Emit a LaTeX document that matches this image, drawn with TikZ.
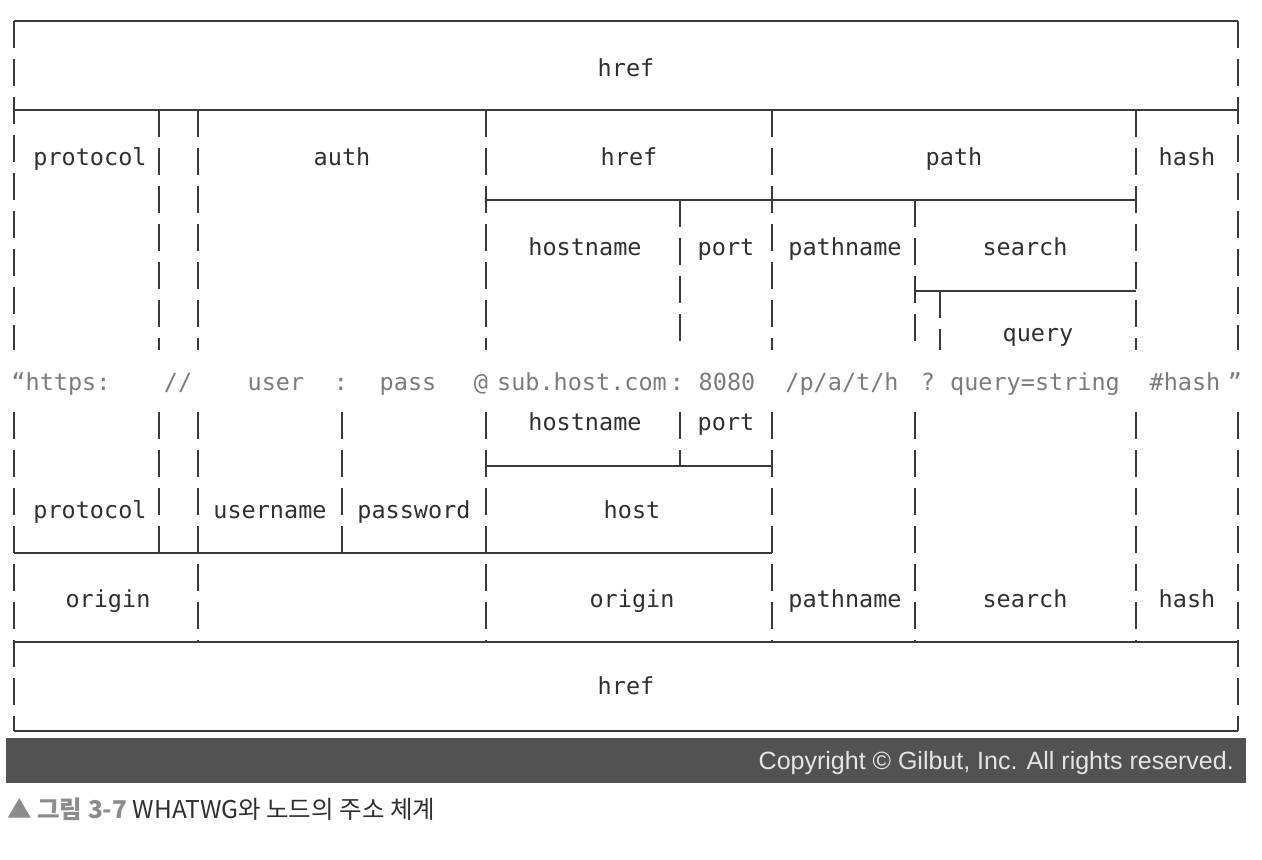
\documentclass[tikz,border=0pt]{standalone}
\usepackage{fontspec}
\setmonofont{DejaVu Sans Mono}
\newfontfamily\korfont{Noto Sans CJK KR}
\newfontfamily\notefont{Liberation Sans}
\definecolor{linegray}{HTML}{3A3A3A}
\definecolor{labelgray}{HTML}{303030}
\definecolor{urlgray}{HTML}{7C7C7C}
\definecolor{bargray}{HTML}{525252}
\definecolor{capgray}{HTML}{8C8C8C}
\tikzset{lbl/.style={font=\ttfamily\fontsize{23.5}{28}\selectfont, text=labelgray, anchor=base, inner sep=0pt}}
\tikzset{urlpart/.style={lbl, text=urlgray}}
\tikzset{rule/.style={draw=linegray, line width=2pt}}
\tikzset{sep/.style={draw=linegray, line width=2pt, dash pattern=on 27pt off 11pt}}

\begin{document}
\begin{tikzpicture}[x=1pt, y=-1pt]
\useasboundingbox (0,0) rectangle (1262,860);

% solid rules
\draw[rule] (14,21) -- (1238,21);
\draw[rule] (14,110) -- (1238,110);
\draw[rule] (486,200) -- (1136,200);
\draw[rule] (915,291) -- (1136,291);
\draw[rule] (486,466) -- (772,466);
\draw[rule] (14,553) -- (772,553);
\draw[rule] (14,642) -- (1238,642);
\draw[rule] (14,731) -- (1238,731);

% dashed separators, upper half
\draw[sep] (14,21) -- (14,350);
\draw[sep] (159,110) -- (159,350);
\draw[sep] (198,110) -- (198,350);
\draw[sep] (486,110) -- (486,350);
\draw[sep] (680,200) -- (680,350);
\draw[sep] (772,110) -- (772,350);
\draw[sep] (915,200) -- (915,350);
\draw[sep] (940,291) -- (940,350);
\draw[sep] (1136,110) -- (1136,350);
\draw[sep] (1238,21) -- (1238,350);

% dashed separators, lower half
\draw[sep] (14,412) -- (14,731);
\draw[sep] (159,412) -- (159,553);
\draw[sep] (198,412) -- (198,642);
\draw[sep] (342,412) -- (342,553);
\draw[sep] (486,412) -- (486,642);
\draw[sep] (680,412) -- (680,466);
\draw[sep] (772,412) -- (772,642);
\draw[sep] (915,412) -- (915,642);
\draw[sep] (1136,412) -- (1136,642);
\draw[sep] (1238,412) -- (1238,731);

% labels above the url
\node[lbl] (hrefTop) at (626,76) {href};
\node[lbl] (protoTop) at (90,165) {protocol};
\node[lbl] (auth) at (342,165) {auth};
\node[lbl] (hrefMid) at (629,165) {href};
\node[lbl] (path) at (954,165) {path};
\node[lbl] (hashTop) at (1187,165) {hash};
\node[lbl] (hostnameTop) at (585,255) {hostname};
\node[lbl] (portTop) at (726,255) {port};
\node[lbl] (pathnameTop) at (845,255) {pathname};
\node[lbl] (searchTop) at (1025,255) {search};
\node[lbl] (query) at (1038,341) {query};

% the url
\node[urlpart] (uProto) at (61,390) {“https:};
\node[urlpart] (uSlash) at (178,390) {//};
\node[urlpart] (uUser) at (276,390) {user};
\node[urlpart] (uColon) at (341,390) {:};
\node[urlpart] (uPass) at (408,390) {pass};
\node[urlpart] (uAt) at (481,390) {@};
\node[urlpart] (uHost) at (582,390) {sub.host.com};
\node[urlpart] (uColonB) at (677,390) {:};
\node[urlpart] (uPort) at (727,390) {8080};
\node[urlpart] (uPath) at (842,390) {/p/a/t/h};
\node[urlpart] (uQmark) at (928,390) {?};
\node[urlpart] (uQuery) at (1035,390) {query=string};
\node[urlpart] (uHash) at (1185,390) {\#hash};
\node[urlpart] (uEnd) at (1235,390) {”};

% labels below the url
\node[lbl] (hostnameLow) at (585,430) {hostname};
\node[lbl] (portLow) at (726,430) {port};
\node[lbl] (protoLow) at (90,518) {protocol};
\node[lbl] (username) at (270,518) {username};
\node[lbl] (password) at (414,518) {password};
\node[lbl] (host) at (632,518) {host};
\node[lbl] (originA) at (108,607) {origin};
\node[lbl] (originB) at (632,607) {origin};
\node[lbl] (pathnameLow) at (845,607) {pathname};
\node[lbl] (searchLow) at (1025,607) {search};
\node[lbl] (hashLow) at (1187,607) {hash};
\node[lbl] (hrefLow) at (626,694) {href};

% footer
\fill[bargray] (6,738) rectangle (1246,783);
\node[anchor=base east, inner sep=0pt, text=white!90!black, font=\notefont\fontsize{25}{28}\selectfont] (copy) at (1234,769) {Copyright © Gilbut, Inc. All rights reserved.};
\node[anchor=base west, inner sep=0pt, text=labelgray, font=\korfont\fontsize{24.5}{28}\selectfont] (caption) at (7,818) {{\color{capgray}\bfseries ▲ 그림 3-7} WHATWG와 노드의 주소 체계};
\end{tikzpicture}
\end{document}
